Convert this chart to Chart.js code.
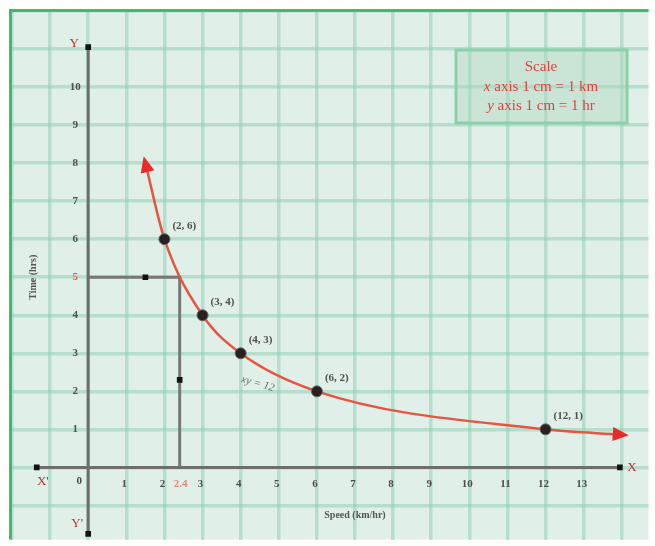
<!DOCTYPE html>
<html>
<head>
<meta charset="utf-8">
<script src="https://cdn.jsdelivr.net/npm/chart.js@4.4.1/dist/chart.umd.min.js"></script>
<style>
  html, body { margin: 0; padding: 0; background: #fff; }
  #graf { display: block; }
</style>
</head>
<body>
<canvas id="graf" width="655" height="546"></canvas>
<script>
// valores
const curvaX = [1.5, 2, 3, 4, 6, 12, 14];
const curvaY = [8, 6, 4, 3, 2, 1, 0.86];
const pontosX = [2, 3, 4, 6, 12];
const pontosY = [6, 4, 3, 2, 1];
const rotulosPontos = ['(2, 6)', '(3, 4)', '(4, 3)', '(6, 2)', '(12, 1)'];
const ticksX = [1, 2, 3, 4, 5, 6, 7, 8, 9, 10, 11, 12, 13];
const ticksY = [1, 2, 3, 4, 5, 6, 7, 8, 9, 10];
const eixoX = [-1.35, 13.95];
const eixoY = [11.05, -1.75];
const guiaT = 5, guiaV = 2.4;

const SERIF = '"Liberation Serif", "DejaVu Serif", serif';
const VERMELHO = '#e63c3c';

function pares(xs, ys) {
  return xs.map((x, i) => ({ x: x, y: ys[i] }));
}

const papel = {
  id: 'papel',
  beforeDraw(chart) {
    const c = chart.ctx, a = chart.chartArea;
    c.save();
    c.fillStyle = '#e0efe7';
    c.fillRect(a.left, a.top, a.right - a.left, a.bottom - a.top);
    c.restore();
  },
  afterDraw(chart) {
    const c = chart.ctx, a = chart.chartArea;
    const sx = chart.scales.x, sy = chart.scales.y;
    const px = v => sx.getPixelForValue(v);
    const py = v => sy.getPixelForValue(v);
    c.save();
    // borda verde
    c.fillStyle = '#45b96a';
    c.fillRect(a.left - 1, a.top - 1, a.right - a.left + 1, 3);
    c.fillRect(a.left - 1, a.top - 1, 3, a.bottom - a.top + 1);

    // caixa de escala
    c.fillStyle = 'rgba(170, 215, 190, 0.4)';
    c.fillRect(456, 50, 171, 73);
    c.strokeStyle = '#8ccfa8';
    c.lineWidth = 3;
    c.strokeRect(456, 50, 171, 73);
    c.fillStyle = VERMELHO;
    c.textAlign = 'center';
    c.textBaseline = 'middle';
    c.font = '15px ' + SERIF;
    c.fillText('Scale', 541, 67);
    const linhaEscala = (ital, resto, y) => {
      c.font = 'italic 15px ' + SERIF;
      const w1 = c.measureText(ital).width;
      c.font = '15px ' + SERIF;
      const w2 = c.measureText(resto).width;
      const x0 = 541 - (w1 + w2) / 2;
      c.textAlign = 'left';
      c.font = 'italic 15px ' + SERIF;
      c.fillText(ital, x0, y);
      c.font = '15px ' + SERIF;
      c.fillText(resto, x0 + w1, y);
      c.textAlign = 'center';
    };
    linhaEscala('x', ' axis 1 cm = 1 km', 87);
    linhaEscala('y', ' axis 1 cm = 1 hr', 106);

    // rotulos dos eixos
    c.font = 'bold 11px ' + SERIF;
    c.fillStyle = '#4d4d4d';
    ticksX.forEach(v => c.fillText(String(v), px(v) - 2, py(0) + 17));
    ticksY.forEach(v => {
      c.fillStyle = v === guiaT ? '#e0603a' : '#4d4d4d';
      c.fillText(String(v), px(0) - 13, py(v));
    });
    c.fillStyle = '#4d4d4d';
    c.fillText('0', px(0) - 9, py(0) + 14);
    c.fillStyle = '#e38a78';
    c.fillText('2.4', px(guiaV) + 1, py(0) + 17);

    // titulos
    c.fillStyle = '#555';
    c.font = 'bold 10px ' + SERIF;
    c.fillText('Speed (km/hr)', px(7), py(0) + 48);
    c.save();
    c.translate(33, py(5));
    c.rotate(-Math.PI / 2);
    c.fillText('Time (hrs)', 0, 0);
    c.restore();

    // letras dos eixos
    c.fillStyle = '#c0302c';
    c.font = '13px ' + SERIF;
    c.fillText("X'", px(eixoX[0]) + 6, py(0) + 14);
    c.fillText('X', px(eixoX[1]) + 12, py(0));
    c.fillText('Y', px(0) - 14, py(eixoY[0]) - 4);
    c.fillText("Y'", px(0) - 11, py(eixoY[1]) - 10);

    // rotulos dos pontos
    c.fillStyle = '#505050';
    c.font = 'bold 11px ' + SERIF;
    c.textAlign = 'left';
    pontosX.forEach((x, i) => {
      c.fillText(rotulosPontos[i], px(x) + 8, py(pontosY[i]) - 13);
    });
    c.save();
    c.translate(px(4.45), py(2.2));
    c.rotate(0.28);
    c.textAlign = 'center';
    c.fillStyle = '#6a6a6a';
    c.font = 'italic 11px ' + SERIF;
    c.fillText('xy = 12', 0, 0);
    c.restore();

    // pontas de seta da curva
    const pts = chart.getDatasetMeta(0).data;
    const seta = (p, cx, cy) => {
      const ang = Math.atan2(p.y - cy, p.x - cx);
      c.save();
      c.translate(p.x, p.y);
      c.rotate(ang);
      c.fillStyle = '#ea2a2a';
      c.beginPath();
      c.moveTo(7, 0);
      c.lineTo(-9, -7);
      c.lineTo(-9, 7);
      c.closePath();
      c.fill();
      c.restore();
    };
    const p0 = pts[0], p1 = pts[pts.length - 1];
    seta(p0, p0.cp2x, p0.cp2y);
    seta(p1, p1.cp1x, p1.cp1y);
    c.restore();
  }
};

const grade = {
  color: 'rgba(140, 205, 180, 0.5)',
  lineWidth: 3.5,
  drawTicks: false
};

new Chart(document.getElementById('graf'), {
  type: 'scatter',
  data: {
    datasets: [
      {
        data: pares(curvaX, curvaY),
        showLine: true,
        borderColor: '#e8553f',
        borderWidth: 2.5,
        cubicInterpolationMode: 'monotone',
        pointRadius: 0,
        order: 2
      },
      {
        data: pares(eixoX, [0, 0]),
        showLine: true,
        borderColor: '#6e6e6e',
        borderWidth: 3,
        pointStyle: 'rect',
        pointRadius: 4,
        pointBackgroundColor: '#111',
        pointBorderWidth: 0,
        order: 3
      },
      {
        data: pares([0, 0], eixoY),
        showLine: true,
        borderColor: '#6e6e6e',
        borderWidth: 3,
        pointStyle: 'rect',
        pointRadius: 4,
        pointBackgroundColor: '#111',
        pointBorderWidth: 0,
        order: 3
      },
      {
        data: pares([0, guiaV, guiaV], [guiaT, guiaT, 0]),
        showLine: true,
        borderColor: '#777',
        borderWidth: 3,
        pointRadius: 0,
        order: 3
      },
      {
        data: pares([1.5, guiaV], [guiaT, 2.3]),
        pointStyle: 'rect',
        pointRadius: 4,
        pointBackgroundColor: '#111',
        pointBorderColor: '#111',
        pointBorderWidth: 0,
        order: 0
      },
      {
        data: pares(pontosX, pontosY),
        pointRadius: 5.5,
        pointBackgroundColor: '#2a2020',
        pointBorderColor: '#666',
        pointBorderWidth: 1,
        order: 0
      }
    ]
  },
  options: {
    responsive: false,
    animation: false,
    layout: { padding: { left: 10, top: 10, right: 0, bottom: 0 } },
    plugins: { legend: { display: false }, tooltip: { enabled: false } },
    scales: {
      x: {
        type: 'linear',
        min: -2.052,
        max: 14.701,
        ticks: { display: false, stepSize: 1, includeBounds: false },
        grid: grade,
        border: { display: false }
      },
      y: {
        type: 'linear',
        min: -1.896,
        max: 12.026,
        ticks: { display: false, stepSize: 1, includeBounds: false },
        grid: grade,
        border: { display: false }
      }
    }
  },
  plugins: [papel]
});
</script>
</body>
</html>
